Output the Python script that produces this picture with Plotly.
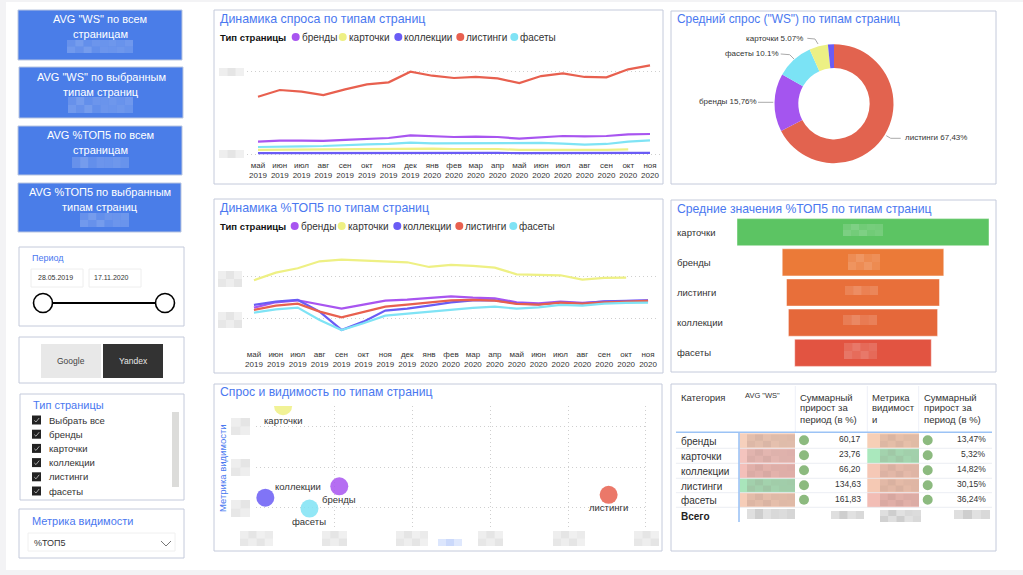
import plotly.graph_objects as go

# ---------- data ----------
months = ["май<br>2019", "июн<br>2019", "июл<br>2019", "авг<br>2019", "сен<br>2019", "окт<br>2019", "ноя<br>2019",
          "дек<br>2019", "янв<br>2020", "фев<br>2020", "мар<br>2020", "апр<br>2020", "май<br>2020", "июн<br>2020",
          "июл<br>2020", "авг<br>2020", "сен<br>2020", "окт<br>2020", "ноя<br>2020"]
types = ["бренды", "карточки", "коллекции", "листинги", "фасеты"]
type_colors = ["#a855f0", "#eef084", "#6a5cf5", "#e8604f", "#7fe3f5"]

ws_brands = [15.9, 17.1, 17.1, 16.7, 17.9, 19, 20.2, 23.4, 22.2, 21.4, 21.8, 21.4, 19.4, 21, 22.6, 22.2, 22.6, 24.6, 25]
ws_cards = [6, 6.3, 6.3, 6, 6.3, 6.7, 7.1, 7.5, 7.5, 7.1, 7.1, 7.1, 6, 6.3, 6.3, 6, 6, 6.7, None]
ws_collections = [2.2, 2.3, 2.3, 2.3, 2.3, 2.3, 2.4, 2.4, 2.4, 2.4, 2.4, 2.4, 2.3, 2.4, 2.5, 2.5, 2.5, 2.5, 2.5]
ws_listings = [69.4, 77.4, 75.4, 71.4, 78.2, 84.1, 86.5, 99.2, 94.4, 91.7, 92.9, 91.3, 85.7, 94, 97.2, 92.9, 92.5, 102, 106.7]
ws_facets = [9.5, 10.3, 10.3, 10.7, 11.9, 12.7, 13.1, 14.7, 13.9, 13.9, 13.9, 13.9, 14.7, 14.3, 13.5, 12.3, 13.1, 15.9, 17.5]

top_brands = [25.6, 38.4, 43.2, 33.6, 23.2, 32.8, 42.4, 44.8, 48.8, 52.8, 49.6, 48, 38.4, 36, 40, 36.8, 40, 41.6, 42.4]
top_cards = [91.2, 109.6, 120, 136.8, 140.8, 138.4, 137.6, 134.4, 123.2, 128, 125.6, 121.6, 105.6, 104, 103.2, 92.8, 96.8, 97.6, None]
top_collections = [32, 40, 44, 16, -28, -8, 18.4, 23.2, 30.4, 38.4, 43.2, 43.2, 36, 33.6, 38.4, 36, 40.8, 42.4, 43.2]
top_listings = [20, 30.4, 35.2, 16, 2.4, 14.4, 28, 32.8, 38.4, 43.2, 44, 42.4, 34.4, 32.8, 37.6, 35.2, 38.4, 40.8, 41.6]
top_facets = [13.6, 21.6, 25.6, -4, -28, -12, 6.4, 11.2, 15.2, 20.8, 24.8, 28, 23.2, 26.4, 32, 30.4, 35.2, 36.8, 37.6]

scatter_demand = [1.06, 0.338, 0.11, 4.52, 0.677]
scatter_metric = [0.52, 2.51, 0.24, 0.31, -0.03]

donut_labels = ["листинги", "бренды", "фасеты", "карточки", "коллекции"]
donut_values = [67.43, 15.76, 10.1, 5.07, 1.64]
donut_colors = ["#e2634f", "#a455ef", "#7be3f5", "#ecf084", "#6b5cf5"]

funnel_cats = ["карточки", "бренды", "листинги", "коллекции", "фасеты"]
funnel_vals = [100, 64.1, 60.7, 59.2, 54.2]
funnel_colors = ["#5cc463", "#eb7a38", "#e86f3a", "#e5683a", "#e25441"]

table_growth_ws = ["60,17", "23,76", "66,20", "134,63", "161,83"]
table_growth_vis = ["13,47%", "5,32%", "14,82%", "30,15%", "36,24%"]
table_fill_ws = ["#f6d0bc", "#f4c4be", "#f4bfb9", "#a9e5bb", "#f6cdb8"]
table_fill_vis = ["#f7cfb6", "#aae8bd", "#f5c8b6", "#f5c9b4", "#f2bdb5"]

kpi_titles = [('AVG "WS" по всем', "страницам"), ('AVG "WS" по выбранным', "типам страниц"),
              ("AVG %ТОП5 по всем", "страницам"), ("AVG %ТОП5 по выбранным", "типам страниц")]
filter_items = ["Выбрать все", "бренды", "карточки", "коллекции", "листинги", "фасеты"]

# ---------- helpers ----------
W, H = 1023, 575
FONT = "Liberation Sans"
BLUE = "#4a78f0"
BORDER = "#c4cadb"
shapes, annotations = [], []


def px(x):
    return x / W


def py(y):
    return 1 - y / H


def dx(a, b):
    return [px(a), px(b)]


def dy(top, bottom):
    return [py(bottom), py(top)]


def rect(x0, y0, x1, y1, fill="rgba(0,0,0,0)", line=None, lw=1, layer="below", opacity=1):
    shapes.append(dict(type="rect", xref="paper", yref="paper", x0=px(x0), x1=px(x1), y0=py(y0), y1=py(y1),
                       fillcolor=fill, line=dict(color=line or "rgba(0,0,0,0)", width=lw if line else 0),
                       layer=layer, opacity=opacity))


def circle(cx, cy, r, fill, line=None, lw=1, layer="above"):
    shapes.append(dict(type="circle", xref="paper", yref="paper", x0=px(cx - r), x1=px(cx + r),
                       y0=py(cy + r), y1=py(cy - r), fillcolor=fill,
                       line=dict(color=line or "rgba(0,0,0,0)", width=lw if line else 0), layer=layer))


def poly(points, color, lw=1, layer="above"):
    p = "M " + " L ".join(f"{px(x):.5f},{py(y):.5f}" for x, y in points)
    shapes.append(dict(type="path", xref="paper", yref="paper", path=p, line=dict(color=color, width=lw), layer=layer))


def text(x, y, s, size=10, color="#333333", anchor="left", bold=False, angle=0):
    annotations.append(dict(xref="paper", yref="paper", x=px(x), y=py(y), text=f"<b>{s}</b>" if bold else s,
                            showarrow=False, xanchor=anchor, yanchor="middle", borderpad=0, textangle=angle,
                            font=dict(family=FONT, size=size, color=color)))


PATTERN = [0.40, 0.52, 0.44, 0.60, 0.38, 0.50, 0.36, 0.56, 0.42, 0.47]


def blob(x0, y0, x1, y1, rgb="150,150,150", gain=1.0, cell=8):
    nx = max(1, round((x1 - x0) / cell))
    ny = max(1, round((y1 - y0) / cell))
    for j in range(ny):
        for i in range(nx):
            a = PATTERN[(i * 3 + j * 7) % len(PATTERN)] * gain
            rect(x0 + (x1 - x0) * i / nx, y0 + (y1 - y0) * j / ny,
                 x0 + (x1 - x0) * (i + 1) / nx, y0 + (y1 - y0) * (j + 1) / ny,
                 fill=f"rgba({rgb},{a:.2f})", layer="above")


# ---------- page ----------
rect(0, 0, W, H, fill="#f3f3f5")
rect(6, 2, W, 570, fill="#ffffff")

# KPI cards
kpi_boxes = [(18, 10, 182, 60), (19, 67, 183, 118), (18, 126, 182, 175), (18, 183, 181, 232)]
kpi_lines = [(19, 34), (76.5, 91.5), (135, 150), (192, 207)]
kpi_blobs = [(67, 40, 133, 53), (68, 97, 133, 113), (72, 157, 129, 168), (80, 213, 129, 227)]
for box, ly, title, b in zip(kpi_boxes, kpi_lines, kpi_titles, kpi_blobs):
    rect(*box, fill="#4a7de8", line="#b9c6e0")
    cx = (box[0] + box[2]) / 2
    text(cx, ly[0], title[0], 11, "#ffffff", "center")
    text(cx, ly[1], title[1], 11, "#ffffff", "center")
    blob(*b, rgb="255,255,255", gain=0.4)

# period
rect(19, 247, 184, 326, fill="#ffffff", line=BORDER)
text(31, 258, "Период", 9, BLUE)
rect(31, 269, 83, 287, fill="#ffffff", line="#eeeeee")
rect(89, 269, 141, 287, fill="#ffffff", line="#eeeeee")
text(37, 278, "28.05.2019", 7, "#333333")
text(93, 278, "17.11.2020", 7, "#333333")
poly([(52, 303), (157, 303)], "#000000", 2)
circle(43, 303, 9.5, "#ffffff", "#000000", 1.6)
circle(165, 303, 9.5, "#ffffff", "#000000", 1.6)

# search engine
rect(19, 337, 184, 383, fill="#ffffff", line=BORDER)
rect(41, 344, 101, 378, fill="#e8e8e8")
rect(103, 344, 163, 378, fill="#333333")
text(71, 361, "Google", 8.5, "#444444", "center")
text(133, 361, "Yandex", 8.5, "#e8e8e8", "center")

# page type filter
rect(20, 394, 184, 500, fill="#ffffff", line=BORDER)
text(32, 405, "Тип страницы", 11, BLUE)
rect(172, 412, 179, 487, fill="#dcdcda")
for i, item in enumerate(filter_items):
    yy = 420 + i * 14.2
    rect(32, yy - 4.5, 41, yy + 4.5, fill="#222222", layer="above")
    poly([(34.3, yy + 0.4), (36, yy + 2), (39.2, yy - 2)], "#cccccc", 0.8)
    text(48, yy, item, 9.5, "#333333")

# metric dropdown
rect(19, 509, 184, 558, fill="#ffffff", line=BORDER)
text(31, 521, "Метрика видимости", 11, BLUE)
rect(28, 533, 175, 551, fill="#ffffff", line="#f0f0f0")
text(33, 543, "%ТОП5", 9, "#333333")
poly([(161, 541), (166, 546), (171, 541)], "#777777", 1)

# panels
panels = [(214, 10, 663, 184, "Динамика спроса по типам страниц", 12.4),
          (214, 199, 663, 373, "Динамика %ТОП5 по типам страниц", 12.4),
          (214, 384, 662, 551, "Спрос и видимость по типам страниц", 12.2),
          (671, 11, 996, 184, 'Средний спрос ("WS") по типам страниц', 11.9),
          (671, 200, 996, 372, "Средние значения %ТОП5 по типам страниц", 12.2),
          (671, 384, 996, 551, None, 12)]
for x0, y0, x1, y1, title, tsize in panels:
    rect(x0, y0, x1, y1, fill="#ffffff", line=BORDER)
    if title:
        text(x0 + 5, y0 + 8.5, title, tsize, BLUE)

# legends
for ly, dots, tx in ((37, [295.7, 342.7, 398.3, 460.3, 514.3], 219), (226, [294.7, 341.7, 397.3, 459.3, 513.3], 218.5)):
    text(tx, ly, "Тип страницы", 9.5, "#111111", bold=True)
    for d, name, col in zip(dots, types, type_colors):
        circle(d, ly, 4, col)
        text(d + 5, ly, name, 10, "#333333")

# ---------- traces ----------
fig = go.Figure()
ws_series = [ws_brands, ws_cards, ws_collections, ws_listings, ws_facets]
top_series = [top_brands, top_cards, top_collections, top_listings, top_facets]
for series, col in zip(ws_series, type_colors):
    fig.add_trace(go.Scatter(x=months, y=series, mode="lines", line=dict(color=col, width=2.2),
                             xaxis="x", yaxis="y", showlegend=False))
for series, col in zip(top_series, type_colors):
    fig.add_trace(go.Scatter(x=months, y=series, mode="lines", line=dict(color=col, width=2.2),
                             xaxis="x2", yaxis="y2", showlegend=False))
fig.add_trace(go.Scatter(x=scatter_demand, y=scatter_metric, mode="markers",
                         marker=dict(color=type_colors, size=18, opacity=0.85), xaxis="x3", yaxis="y3",
                         showlegend=False))
fig.add_trace(go.Pie(labels=donut_labels, values=donut_values, hole=0.6, sort=False, direction="clockwise",
                     rotation=0, textinfo="none", marker=dict(colors=donut_colors), showlegend=False,
                     domain=dict(x=dx(774.5, 893.5), y=dy(44.2, 163.2))))
fig.add_trace(go.Funnel(y=funnel_cats, x=funnel_vals, orientation="h", textinfo="none",
                        marker=dict(color=funnel_colors, line=dict(color="rgba(255,255,255,0.45)", width=1)),
                        connector=dict(visible=False), xaxis="x4", yaxis="y4", showlegend=False))

# scatter labels, placed relative to their points through the axes
label_shift = {"бренды": (0, -13), "карточки": (0, -14), "коллекции": (33, 11), "листинги": (0, -13), "фасеты": (0, -13)}
for name, xv, yv in zip(types, scatter_demand, scatter_metric):
    sx, sy = label_shift[name]
    annotations.append(dict(xref="x3", yref="y3", x=xv, y=yv, text=name, showarrow=False, xshift=sx, yshift=sy,
                            xanchor="center", yanchor="middle", borderpad=0,
                            font=dict(family=FONT, size=9.5, color="#333333")))

# donut labels
text(745, 38.3, "карточки 5.07%", 8, "#333333")
text(724, 53.3, "фасеты 10.1%", 8, "#333333")
text(698, 101.3, "бренды 15,76%", 8, "#333333")
text(904, 137.3, "листинги 67,43%", 8, "#333333")
poly([(807.3, 38.3), (815, 39), (818, 44)], "#aaaaaa")
poly([(780.7, 54), (789.7, 54.7), (794, 59)], "#aaaaaa")
poly([(758, 102.3), (773.3, 102.3)], "#aaaaaa")
poly([(886.3, 135.7), (890.7, 138.3), (900.7, 138.3)], "#aaaaaa")

# funnel labels and masked values
for cat in funnel_cats:
    annotations.append(dict(xref="paper", yref="y4", x=px(676), y=cat, text=cat, showarrow=False, xanchor="left",
                            yanchor="middle", borderpad=0, font=dict(family=FONT, size=9.5, color="#333333")))
for b in [(843, 224, 883, 236), (848, 254, 880, 270), (845, 286, 878, 295), (843, 315, 877, 325), (844, 343, 877, 359)]:
    blob(*b, rgb="255,255,255", gain=0.35)

# axis value masks
for b in [(219, 68, 244, 76), (219, 150, 244, 158),
          (218, 271, 242, 287), (218, 312, 242, 328),
          (231, 418, 250, 435), (231, 459, 250, 476), (231, 500, 250, 517),
          (240, 531, 273, 546), (322, 531, 347, 546), (396, 531, 428, 546),
          (478, 531, 503, 546), (553, 531, 585, 546), (634, 531, 659, 546)]:
    blob(*b, rgb="170,170,170", gain=0.5)
blob(438, 539, 462, 546, rgb="110,150,245", gain=0.6)
text(222, 468, "Метрика видимости", 9.5, BLUE, "center", angle=-90)

# ---------- table ----------
row_edges = [433.3, 448.3, 463.3, 478.3, 492.7, 507.3, 522]
text(680, 397, "Категория", 9.5)
text(744, 395, 'AVG "WS"', 7.5)
for x, lines in ((799, ["Суммарный", "прирост за", "период (в %)"]), (871, ["Метрика", "видимост", "и"]),
                 (923, ["Суммарный", "прирост за", "период (в %)"])):
    for k, ln in enumerate(lines):
        text(x, 397 + k * 11, ln, 9.5)
for x in (795.3, 867.3, 918.7):
    poly([(x, 386), (x, 432)], "#eef1f8", 1, layer="below")
for i, t in enumerate(types):
    top, bot = row_edges[i], row_edges[i + 1]
    rect(739.5, top, 795, bot, fill=table_fill_ws[i])
    rect(867.3, top, 919, bot, fill=table_fill_vis[i])
    blob(747, top + 1, 795, bot - 1, rgb="130,100,95", gain=0.4)
    blob(880, top + 1, 919, bot - 1, rgb="130,100,95", gain=0.4)
    text(680, top + 8, t, 10)
    circle(804, top + 7, 5, "#8cba7f")
    circle(927.7, top + 7, 5, "#8cba7f")
    text(862.3, top + 6, table_growth_ws[i], 8.5, anchor="right")
    text(987, top + 6, table_growth_vis[i], 8.5, anchor="right")
    poly([(676, bot), (992, bot)], "#e6e9f0", 0.8)
text(680, 516.3, "Всего", 10, "#222222", bold=True)
for b in [(747, 509, 795, 519), (831, 511, 864, 519), (880, 510, 921, 522), (954, 510, 990, 519)]:
    blob(*b, rgb="120,120,120", gain=0.6)
poly([(676, 432.3), (992, 432.3)], "#9cc3f5", 1.6)
poly([(739, 432.3), (739, 522)], "#9cc3f5", 1.6)

# ---------- layout ----------
GRID = "#cfcfcf"
DOTS = "1px,3px"
tick_font = dict(family=FONT, size=8, color="#333333")
hidden_y = dict(showticklabels=False, ticks="", zeroline=False, showline=False, showgrid=True, gridcolor=GRID,
                griddash=DOTS, gridwidth=1, tickmode="array", fixedrange=True)
fig.update_layout(
    width=W, height=H, margin=dict(l=0, r=0, t=0, b=0), autosize=False,
    paper_bgcolor="#ffffff", plot_bgcolor="rgba(0,0,0,0)",
    font=dict(family=FONT), funnelgap=0.1, shapes=shapes, annotations=annotations,
    xaxis=dict(domain=dx(247.1, 660.9), range=[-0.5, 18.5], type="category", showgrid=False, zeroline=False,
               showline=False, ticks="", tickfont=tick_font, tickangle=0, automargin=False, anchor="y"),
    yaxis=dict(domain=dy(58, 159), range=[-4.8, 115.5], tickvals=[0, 100], anchor="x", **hidden_y),
    xaxis2=dict(domain=dx(243, 659), range=[-0.5, 18.5], type="category", showgrid=False, zeroline=False,
                showline=False, ticks="", tickfont=tick_font, tickangle=0, automargin=False, anchor="y2"),
    yaxis2=dict(domain=dy(240, 348), range=[-71.3, 187.9], tickvals=[0, 100], anchor="x2", **hidden_y),
    xaxis3=dict(domain=dx(256, 647), range=[-0.01, 5.013], tickvals=[0, 1, 2, 3, 4, 5], showticklabels=False,
                ticks="", zeroline=False, showline=False, showgrid=True, gridcolor=GRID, griddash=DOTS, anchor="y3"),
    yaxis3=dict(domain=dy(406, 527), range=[-0.488, 2.514], tickvals=[0, 1, 2], showticklabels=False, ticks="",
                zeroline=False, showline=False, showgrid=True, gridcolor=GRID, griddash=DOTS, anchor="x3"),
    xaxis4=dict(domain=dx(737, 989), range=[-50, 50], visible=False, anchor="y4"),
    yaxis4=dict(domain=dy(217.1, 367.9), range=[4.5, -0.5], visible=False, type="category", anchor="x4"),
)
fig.write_html("out.html", config=dict(displayModeBar=False),
               post_script="document.body.style.margin='0';document.body.style.overflow='hidden';")
